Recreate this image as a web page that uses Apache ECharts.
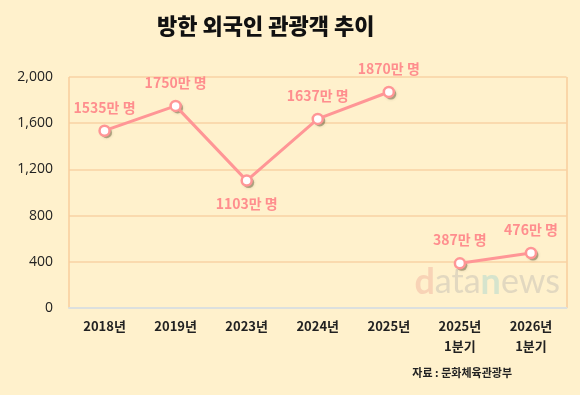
<!DOCTYPE html>
<html><head><meta charset="utf-8">
<script src="https://cdn.jsdelivr.net/npm/echarts@6/dist/echarts.min.js"></script>
<style>html,body{margin:0;padding:0;background:#FFF1CC;}#c{width:580px;height:395px;}</style>
</head><body><div id="c"></div>
<script>
const categories = ['2018년','2019년','2023년','2024년','2025년','2025년\n1분기','2026년\n1분기'];
const annualValues = [1535, 1750, 1103, 1637, 1870, '-', '-'];
const quarterValues = ['-', '-', '-', '-', '-', 387, 476];
const labelPositions = ['top','top','bottom','top','top','top','top'];
const yTicks = { min: 0, max: 2000, interval: 400 };

const pink = '#FF9696';
const lblColor = '#FF8E8E';
function mkData(vals){
  return vals.map((v,i)=> v==='-' ? '-' : {value:v, label:{position:labelPositions[i]}});
}
const symbolStyle = {color:'#fff', borderColor:pink, borderWidth:2.5};
const labelCfg = {show:true, distance:10, color:lblColor, fontSize:14, fontWeight:'bold', fontFamily:'Noto Sans CJK KR', formatter:p=>p.value+'만 명'};
const shadowSeries = (vals)=>({type:'scatter', data:vals, symbol:'circle', symbolSize:11, symbolOffset:[2,2], z:1, silent:true,
  itemStyle:{color:'rgba(70,60,30,0.45)', shadowColor:'rgba(70,60,30,0.5)', shadowBlur:3}});
const chart = echarts.init(document.getElementById('c'));
chart.setOption({
  backgroundColor:'#FFF1CC',
  title:{text:'방한 외국인 관광객 추이', left:152, top:10, textStyle:{fontSize:22, fontWeight:900, color:'#111', fontFamily:'Noto Sans CJK KR'}},
  grid:{left:69, right:13.5, top:77, bottom:87},
  xAxis:{type:'category', data:categories, boundaryGap:true,
    axisLine:{show:true, lineStyle:{color:'#DCE0DE', width:2}}, axisTick:{show:false},
    axisLabel:{color:'#222', fontSize:13, fontWeight:'bold', fontFamily:'Noto Sans CJK KR', lineHeight:20, margin:8},
    splitLine:{show:true, interval:(i)=>i===5, lineStyle:{color:'#F8CC9C', width:1.5}}},
  yAxis:{type:'value', min:yTicks.min, max:yTicks.max, interval:yTicks.interval,
    axisLine:{show:false}, axisTick:{show:false},
    axisLabel:{color:'#222', fontSize:14, fontFamily:'Open Sans', margin:16, formatter:v=>v.toLocaleString('en-US')},
    splitLine:{lineStyle:{color:'#F8D2A4', width:1.5}}},
  graphic:[
    {type:'text', right:20, top:264, z:0, silent:true, style:{text:'{a|d}{b|ata}{c|n}{b|ews}', rich:{
      a:{fontSize:36, fontWeight:'bold', fontFamily:'Lato', fill:'#F8D3B6'},
      b:{fontSize:34, fontFamily:'Lato', fill:'#E2D8C0'},
      c:{fontSize:36, fontWeight:'bold', fontFamily:'Lato', fill:'#D6E4CD'}}}},
    {type:'text', right:68, top:367, style:{text:'자료 : 문화체육관광부', font:'bold 11px "Noto Sans CJK KR"', fill:'#222'}}
  ],
  series:[
    shadowSeries(annualValues),
    shadowSeries(quarterValues),
    {type:'line', data:mkData(annualValues), symbol:'circle', symbolSize:10, lineStyle:{color:pink, width:3}, itemStyle:symbolStyle, label:labelCfg, z:3},
    {type:'line', data:mkData(quarterValues), symbol:'circle', symbolSize:10, lineStyle:{color:pink, width:3}, itemStyle:symbolStyle, label:labelCfg, z:3}
  ]
});
</script></body></html>
